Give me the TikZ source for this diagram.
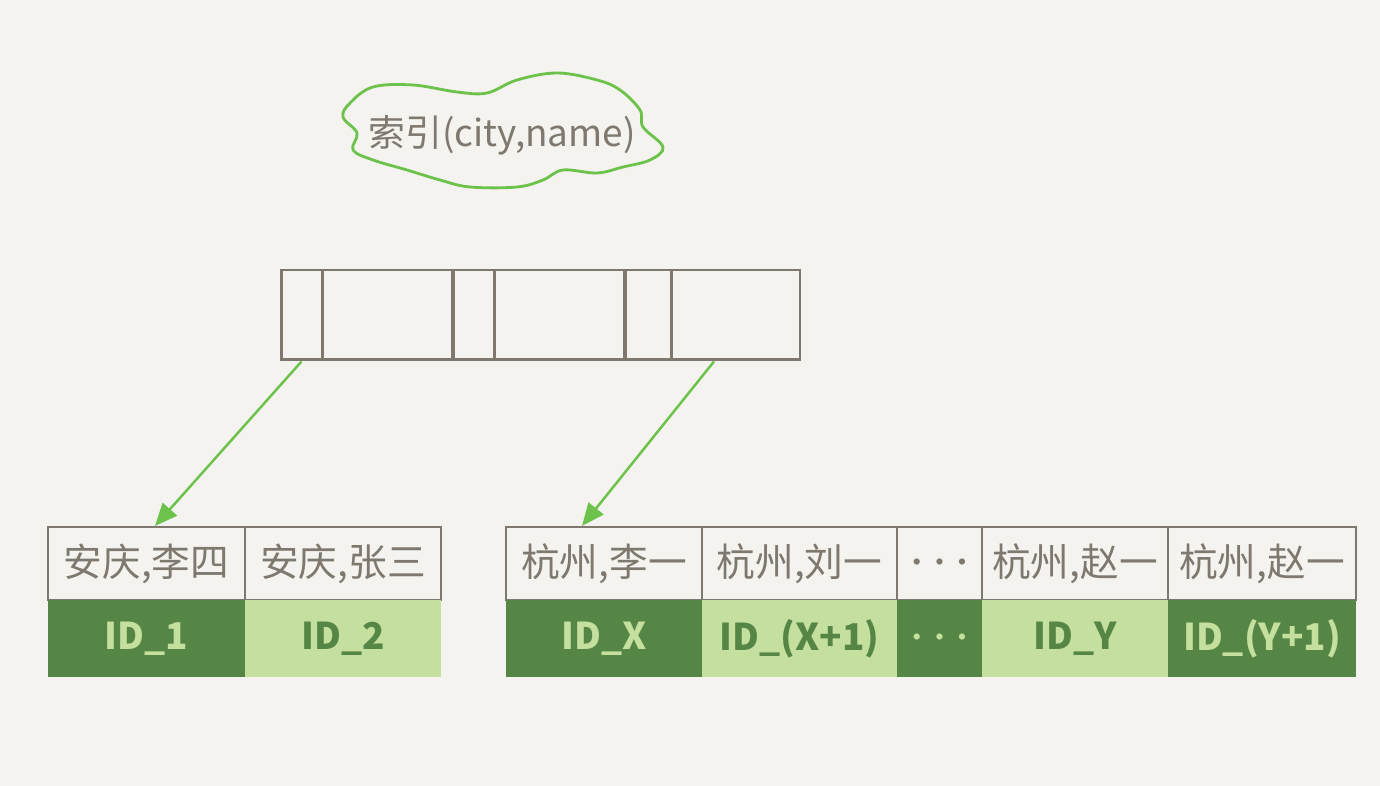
\documentclass[tikz,border=0pt]{standalone}
\usepackage{fontspec}
\usepackage{tikz}
\usetikzlibrary{arrows.meta}
\newfontfamily\cjk{Noto Sans CJK SC}

\definecolor{paper}{HTML}{F4F3EF}
\definecolor{pencil}{HTML}{7E786F}
\definecolor{leaf}{HTML}{6CC24A}
\definecolor{darkid}{HTML}{568645}
\definecolor{lightid}{HTML}{C4DF9E}

\tikzset{
  keycell/.style={draw=pencil, line width=1.2pt, fill=paper, minimum height=1.46cm,
    inner sep=0pt, text=pencil, font=\cjk\fontsize{22}{26}\selectfont},
  iddark/.style={fill=darkid, minimum height=1.54cm, inner sep=0pt,
    text=lightid, font=\cjk\bfseries\fontsize{21}{25}\selectfont},
  idlight/.style={fill=lightid, minimum height=1.54cm, inner sep=0pt,
    text=darkid, font=\cjk\bfseries\fontsize{21}{25}\selectfont},
  slot/.style={draw=pencil, line width=1.7pt, minimum height=1.8cm, inner sep=0pt},
  link/.style={draw=leaf, line width=1.4pt, -{Triangle[length=0.45cm, width=0.38cm]}}
}
\newcommand{\moredots}{{\normalfont\fontsize{13}{15}\selectfont\textbullet\hspace{3pt}\textbullet\hspace{3pt}\textbullet}}

\begin{document}
\begin{tikzpicture}[x=0.02cm, y=-0.02cm]
\useasboundingbox[fill=paper] (0,0) rectangle (1380,786);

% index name, hand-drawn outline round it
\node[text=pencil, font=\cjk\fontsize{21}{25}\selectfont] (idx) at (502,135) {索引(city,name)};
\draw[leaf, line width=1.6pt] plot[smooth cycle, tension=0.6] coordinates {
  (350,103) (373,87) (413,85) (457,92) (487,93) (517,80) (557,73) (597,80)
  (620,90) (640,110) (643,127) (663,147) (650,160) (623,167) (597,173) (563,170)
  (543,180) (517,187) (470,187) (440,180) (407,170) (373,160) (353,150) (357,133)
  (343,117)};

% top page
\node[slot, minimum width=0.82cm] (p1) at (301.5,315) {};
\node[slot, minimum width=2.62cm] (p2) at (387.5,315) {};
\node[slot, minimum width=0.82cm] (p3) at (473.5,315) {};
\node[slot, minimum width=2.62cm] (p4) at (559.5,315) {};
\node[slot, minimum width=0.92cm] (p5) at (648,315) {};
\node[slot, minimum width=2.58cm] (p6) at (735.5,315) {};

% left leaf
\node[keycell, minimum width=3.94cm] (k1) at (146.5,563.5) {安庆,李四};
\node[keycell, minimum width=3.92cm] (k2) at (343,563.5) {安庆,张三};
\node[iddark, minimum width=3.94cm] (d1) at (146.5,638.5) {ID\_1};
\node[idlight, minimum width=3.92cm] (d2) at (343,638.5) {ID\_2};

% right leaf
\node[keycell, minimum width=3.92cm] (r1) at (604,563.5) {杭州,李一};
\node[keycell, minimum width=3.9cm] (r2) at (799.5,563.5) {杭州,刘一};
\node[keycell, minimum width=1.7cm] (r3) at (939.5,563.5) {\moredots};
\node[keycell, minimum width=3.72cm] (r4) at (1075,563.5) {杭州,赵一};
\node[keycell, minimum width=3.76cm] (r5) at (1262,563.5) {杭州,赵一};
\node[iddark, minimum width=3.92cm] (e1) at (604,638.5) {ID\_X};
\node[idlight, minimum width=3.9cm] (e2) at (799.5,638.5) {ID\_(X+1)};
\node[iddark, minimum width=1.7cm] (e3) at (939.5,638.5) {\moredots};
\node[idlight, minimum width=3.72cm] (e4) at (1075,638.5) {ID\_Y};
\node[iddark, minimum width=3.76cm] (e5) at (1262,638.5) {ID\_(Y+1)};

\draw[link] (p1.south) -- ([xshift=0.17cm]k1.north);
\draw[link] ([xshift=-0.43cm]p6.south) -- ([xshift=-0.44cm]r1.north);
\end{tikzpicture}
\end{document}
